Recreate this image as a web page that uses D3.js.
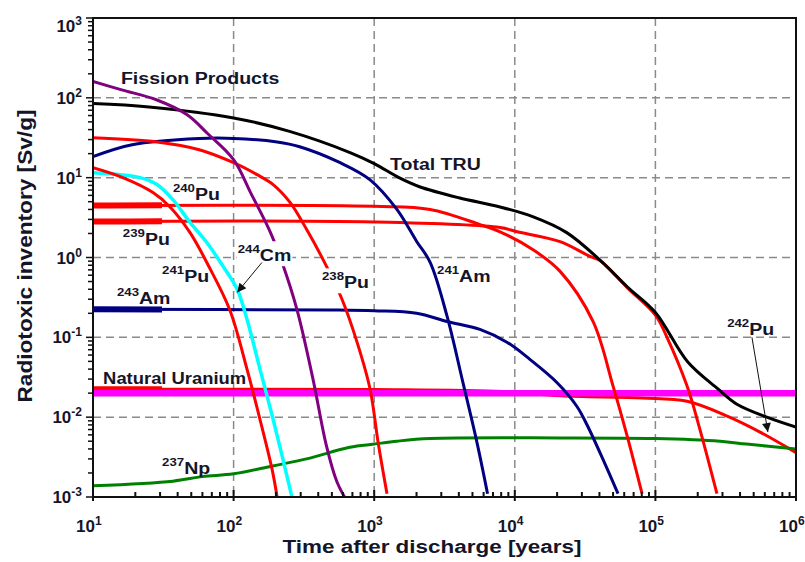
<!DOCTYPE html>
<html>
<head>
<meta charset="utf-8">
<title>Radiotoxic inventory</title>
<style>
	body { margin: 0; background: #fff; }
	text { font-family: "Liberation Sans", Arial, sans-serif; font-weight: bold; fill: #15152a; }
</style>
</head>
<body>
<div id="chart"></div>
<script src="https://cdn.jsdelivr.net/npm/d3@7/dist/d3.min.js"></script>
<script>

var width = 805;
var height = 562;
var margin = {top: 18, right: 9, bottom: 65, left: 93};

// each series: [years after discharge, Sv/g]
var fissionProducts = [[10,160],[16,126],[28.5,94],[47,61],[65,36],[100,16.8],[132,6.5],[182,2.1],[221,0.87],[282,0.224],[367,0.03],[457,0.0044],[543,0.00155],[615,0.001]];
var totalTRU = [[10,85],[25,77],[100,56],[250,38],[680,20.5],[1000,15],[1500,10],[2100,7.7],[4000,5.6],[7850,4.3],[13400,3.25],[23400,2.05],[40000,0.94],[63000,0.43],[100000,0.205],[170000,0.049],[280000,0.0224],[380000,0.0145],[620000,0.01],[1000000,0.0075]];
var am241 = [[10,18.3],[19,25.8],[57,30.9],[100,31],[204,28],[295,24.4],[572,15.4],[935,9.4],[1450,4.0],[2000,1.6],[2500,0.87],[3300,0.183],[4270,0.0275],[5370,0.0049],[6400,0.0011]];
var am243 = [[10,0.224],[500,0.22],[1000,0.215],[2000,0.2],[3300,0.158],[5650,0.126],[8790,0.087],[12800,0.053],[20000,0.027],[27600,0.0137],[33000,0.0077],[43800,0.0026],[54200,0.0011]];
var pu238 = [[10,31.6],[28.5,28],[57,22.4],[100,15.4],[147,10.9],[191,8.2],[252,4.9],[331,2.24],[433,0.94],[590,0.3],[755,0.087],[935,0.0224],[1065,0.0049],[1233,0.0011]];
var pu239 = [[10,2.82],[1000,2.78],[7850,2.37],[10400,2.1],[21000,1.58],[34300,1.03],[40300,0.92],[63000,0.42],[100000,0.19],[120000,0.103],[168000,0.0245],[207000,0.0071],[274000,0.0011]];
var pu240 = [[10,4.47],[1000,4.37],[2500,4.0],[5600,2.6],[7850,2.1],[13400,1.26],[21000,0.67],[36000,0.158],[50000,0.0245],[63000,0.0058],[80400,0.0011]];
var pu241 = [[10,13.3],[16.3,10],[26.7,6.5],[35.3,4.3],[49,2.05],[66,0.8],[94,0.22],[124.5,0.04],[154,0.0094],[188,0.0022],[204,0.001]];
var pu242 = [[10,0.0224],[1000,0.0222],[8250,0.021],[21000,0.0185],[81000,0.0174],[168000,0.0158],[324000,0.0103],[555000,0.0065],[1000000,0.0036]];
var cm244 = [[10,11.5],[21.6,10],[28.5,8.2],[37,5.3],[49,2.75],[64.5,1.54],[84,0.78],[106,0.4],[124.5,0.168],[154,0.04],[191,0.0094],[224,0.003],[260,0.001]];
var np237 = [[10,0.00138],[37,0.00158],[60,0.0018],[100,0.00195],[190,0.00245],[330,0.003],[670,0.0042],[1000,0.0046],[1450,0.005],[2500,0.0054],[21000,0.0055],[100000,0.0054],[288000,0.005],[445000,0.0046],[1000000,0.004]];
var naturalUranium = [[10,0.02],[1000000,0.02]];

var xDomain = [10, 1e6];
var yDomain = [1e-3, 1e3];
var xExponents = [1, 2, 3, 4, 5, 6];
var yExponents = [-3, -2, -1, 0, 1, 2, 3];

// labels: superscript, name, anchor [years, Sv/g]
var labels = [
	{sup: '', name: 'Fission Products', at: [15.8, 150]},
	{sup: '', name: 'Total TRU', at: [1295, 12.6]},
	{sup: '240', name: 'Pu', at: [37, 5.3]},
	{sup: '239', name: 'Pu', at: [16.3, 1.45]},
	{sup: '241', name: 'Pu', at: [31, 0.487], box: false},
	{sup: '244', name: 'Cm', at: [107, 0.917], box: true},
	{sup: '238', name: 'Pu', at: [425, 0.42], box: true},
	{sup: '241', name: 'Am', at: [2800, 0.487]},
	{sup: '243', name: 'Am', at: [14.8, 0.259]},
	{sup: '', name: 'Natural Uranium', at: [11.8, 0.0259], small: true},
	{sup: '237', name: 'Np', at: [31, 0.00194]},
	{sup: '242', name: 'Pu', at: [324000, 0.106]}
];
var arrows = [
	{from: [159, 0.866], to: [106, 0.365]},
	{from: [486000, 0.1], to: [631000, 0.0065]}
];

var svg = d3.select('#chart')
	.append('svg')
	.attr('width', width)
	.attr('height', height)
	.style('display', 'block');

svg.append('rect')
	.attr('width', width)
	.attr('height', height)
	.attr('fill', 'white');

var x = d3.scaleLog().domain(xDomain).range([margin.left, width - margin.right]);
var y = d3.scaleLog().domain(yDomain).range([height - margin.bottom, margin.top]);

var defs = svg.append('defs');
defs.append('marker')
	.attr('id', 'head')
	.attr('viewBox', '0 0 10 10')
	.attr('refX', 10).attr('refY', 5)
	.attr('markerWidth', 11).attr('markerHeight', 9)
	.attr('markerUnits', 'userSpaceOnUse')
	.attr('orient', 'auto')
	.append('path')
	.attr('d', 'M0,0 L10,5 L0,10 Z')
	.attr('fill', '#111');

defs.append('clipPath').attr('id', 'plotclip')
	.append('rect')
	.attr('x', x(10)).attr('y', y(1e3))
	.attr('width', x(1e6) - x(10)).attr('height', y(1e-3) - y(1e3));

defs.append('clipPath').attr('id', 'startclip')
	.append('rect')
	.attr('x', x(10)).attr('y', y(1e3))
	.attr('width', x(31) - x(10)).attr('height', y(1e-3) - y(1e3));

// grid
var grid = svg.append('g')
	.attr('stroke', '#8a8a8a')
	.attr('stroke-width', 1.5)
	.attr('stroke-dasharray', '8,5');

grid.selectAll('.vgrid')
	.data(xExponents.slice(1, -1))
	.enter()
	.append('line')
	.attr('class', 'vgrid')
	.attr('x1', function(d){ return x(Math.pow(10, d)); })
	.attr('x2', function(d){ return x(Math.pow(10, d)); })
	.attr('y1', y(1e3)).attr('y2', y(1e-3));

grid.selectAll('.hgrid')
	.data(yExponents.slice(1, -1))
	.enter()
	.append('line')
	.attr('class', 'hgrid')
	.attr('y1', function(d){ return y(Math.pow(10, d)); })
	.attr('y2', function(d){ return y(Math.pow(10, d)); })
	.attr('x1', x(10)).attr('x2', x(1e6));

var line = d3.line()
	.x(function(d){ return x(d[0]); })
	.y(function(d){ return y(d[1]); })
	.curve(d3.curveCatmullRom.alpha(0.5));

var series = [
	{data: pu242, color: '#ff0000', w: 3, thickStart: true},
	{data: naturalUranium, color: '#ff00ff', w: 6.5},
	{data: np237, color: '#008000', w: 3},
	{data: am243, color: '#000080', w: 3, thickStart: true},
	{data: pu240, color: '#ff0000', w: 3, thickStart: true},
	{data: pu239, color: '#ff0000', w: 3, thickStart: true},
	{data: am241, color: '#000080', w: 3},
	{data: pu238, color: '#ff0000', w: 3},
	{data: totalTRU, color: '#000000', w: 3},
	{data: fissionProducts, color: '#800080', w: 3},
	{data: cm244, color: '#00ffff', w: 3.5},
	{data: pu241, color: '#ff0000', w: 3}
];

var plot = svg.append('g').attr('clip-path', 'url(#plotclip)');

series.forEach(function(s){
	plot.append('path')
		.attr('d', line(s.data))
		.attr('fill', 'none')
		.attr('stroke', s.color)
		.attr('stroke-width', s.w)
		.attr('stroke-linejoin', 'round');
	if(s.thickStart){
		plot.append('path')
			.attr('d', line(s.data))
			.attr('clip-path', 'url(#startclip)')
			.attr('fill', 'none')
			.attr('stroke', s.color)
			.attr('stroke-width', s.w + 3);
	}
});

// labels
var labelLayer = svg.append('g');
labels.forEach(function(l){
	var g = labelLayer.append('g')
		.attr('transform', 'translate(' + x(l.at[0]) + ',' + y(l.at[1]) + ') scale(1.15,1)');
	var t = g.append('text')
		.attr('font-size', l.small ? 16 : 17);
	if(l.sup){
		t.append('tspan').attr('font-size', 11.5).attr('dy', -8).text(l.sup);
		t.append('tspan').attr('dy', 8).text(l.name);
	} else {
		t.text(l.name);
	}
	if(l.box){
		var b = t.node().getBBox();
		g.insert('rect', 'text')
			.attr('x', b.x - 1).attr('y', b.y - 1)
			.attr('width', b.width + 2).attr('height', b.height + 3)
			.attr('fill', 'white');
	}
});

svg.selectAll('.arrow')
	.data(arrows)
	.enter()
	.append('line')
	.attr('class', 'arrow')
	.attr('x1', function(d){ return x(d.from[0]); })
	.attr('y1', function(d){ return y(d.from[1]); })
	.attr('x2', function(d){ return x(d.to[0]); })
	.attr('y2', function(d){ return y(d.to[1]); })
	.attr('stroke', '#111')
	.attr('stroke-width', 1)
	.attr('marker-end', 'url(#head)');

// frame
svg.append('rect')
	.attr('x', x(10)).attr('y', y(1e3))
	.attr('width', x(1e6) - x(10)).attr('height', y(1e-3) - y(1e3))
	.attr('fill', 'none')
	.attr('stroke', '#111')
	.attr('stroke-width', 2);

// ticks
var xTicks = x.ticks();
var yTicks = y.ticks();
function isMajor(v){ return Math.abs(Math.log10(v) - Math.round(Math.log10(v))) < 1e-6; }

svg.append('g').selectAll('line')
	.data(xTicks)
	.enter()
	.append('line')
	.attr('x1', function(d){ return x(d); })
	.attr('x2', function(d){ return x(d); })
	.attr('y1', function(d){ return y(1e-3) + (isMajor(d) ? 4 : 0); })
	.attr('y2', function(d){ return y(1e-3) - (isMajor(d) ? 7 : 5); })
	.attr('stroke', '#111')
	.attr('stroke-width', 2);

svg.append('g').selectAll('line')
	.data(yTicks)
	.enter()
	.append('line')
	.attr('y1', function(d){ return y(d); })
	.attr('y2', function(d){ return y(d); })
	.attr('x1', x(10))
	.attr('x2', function(d){ return x(10) - (isMajor(d) ? 7 : 5); })
	.attr('stroke', '#111')
	.attr('stroke-width', 1.5);

// tick labels
svg.append('g').selectAll('text')
	.data(xExponents)
	.enter()
	.append('text')
	.attr('x', function(d){ return x(Math.pow(10, d)) - 17; })
	.attr('y', height - margin.bottom + 35)
	.attr('font-size', 17)
	.each(function(d){
		var t = d3.select(this);
		t.append('tspan').text('10');
		t.append('tspan').attr('font-size', 12).attr('dy', -7).text(d);
	});

svg.append('g').selectAll('text')
	.data(yExponents)
	.enter()
	.append('text')
	.attr('x', x(10) - 11)
	.attr('y', function(d){ return Math.max(y(Math.pow(10, d)) + 6, 32); })
	.attr('text-anchor', 'end')
	.attr('font-size', 17)
	.each(function(d){
		var t = d3.select(this);
		t.append('tspan').text('10');
		t.append('tspan').attr('font-size', 12).attr('dy', -7).text(d < 0 ? '-' + Math.abs(d) : d);
	});

// axis titles
svg.append('text')
	.attr('x', 432)
	.attr('y', height - 9)
	.attr('text-anchor', 'middle')
	.attr('font-size', 18)
	.attr('textLength', 299)
	.attr('lengthAdjust', 'spacingAndGlyphs')
	.text('Time after discharge [years]');

svg.append('text')
	.attr('transform', 'translate(32,' + 256 + ') rotate(-90)')
	.attr('text-anchor', 'middle')
	.attr('font-size', 20)
	.attr('textLength', 293)
	.attr('lengthAdjust', 'spacingAndGlyphs')
	.text('Radiotoxic inventory [Sv/g]');

</script>
</body>
</html>
